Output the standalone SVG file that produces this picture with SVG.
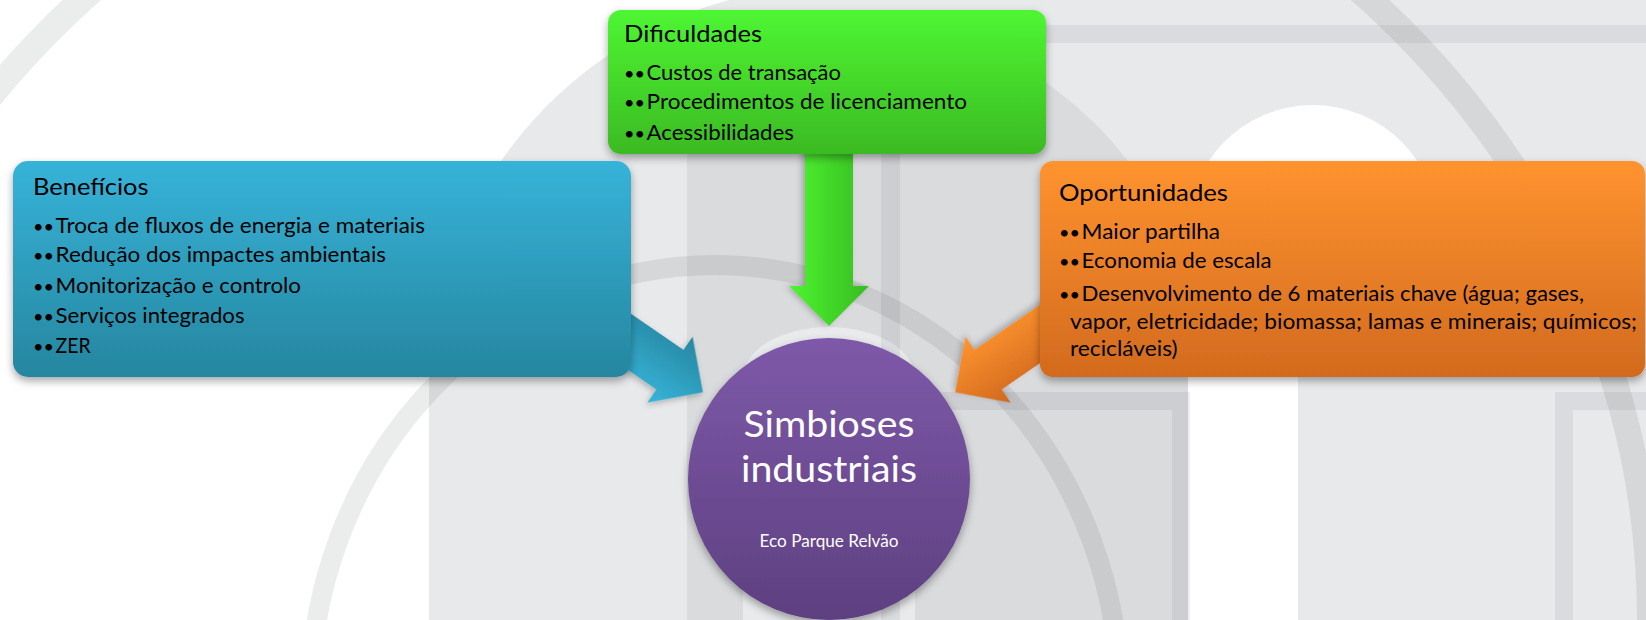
<svg xmlns="http://www.w3.org/2000/svg" width="1646" height="620" viewBox="0 0 1646 620">
<defs>
<style>
.t{font-family:Lato,"Liberation Sans",sans-serif;fill:#000}
.h{font-size:24px}
.b{font-size:21.5px}
.dot{font-size:17px}
.c{font-family:Lato,"Liberation Sans",sans-serif;fill:#fff;text-anchor:middle}
.band{fill:#1b1e28;fill-opacity:0.065}
.ring{fill:none;stroke:#1b1e28;stroke-opacity:0.085}
</style>
<linearGradient id="gGreen" x1="0" y1="0" x2="0" y2="1"><stop offset="0" stop-color="#4EF632"/><stop offset="1" stop-color="#3BBA23"/></linearGradient>
<linearGradient id="gBlue" x1="0" y1="0" x2="0" y2="1"><stop offset="0" stop-color="#36B3D9"/><stop offset="1" stop-color="#26869F"/></linearGradient>
<linearGradient id="gOrange" x1="0" y1="0" x2="0" y2="1"><stop offset="0" stop-color="#FF932F"/><stop offset="1" stop-color="#D26A1E"/></linearGradient>
<linearGradient id="gPurple" x1="0" y1="0" x2="0" y2="1"><stop offset="0" stop-color="#7E59A9"/><stop offset="1" stop-color="#5D4080"/></linearGradient>
<linearGradient id="aGreen" x1="0" y1="1" x2="0" y2="0"><stop offset="0" stop-color="#4EF431"/><stop offset="1" stop-color="#37BC21"/></linearGradient>
<linearGradient id="aBlue" x1="0" y1="1" x2="0" y2="0"><stop offset="0" stop-color="#37B5DA"/><stop offset="1" stop-color="#2686A0"/></linearGradient>
<linearGradient id="aOrange" x1="0" y1="1" x2="0" y2="0"><stop offset="0" stop-color="#FF9530"/><stop offset="1" stop-color="#D0681D"/></linearGradient>
<filter id="sh" x="-10%" y="-10%" width="120%" height="130%"><feDropShadow dx="0" dy="4" stdDeviation="4" flood-color="#000" flood-opacity="0.35"/></filter>
<filter id="sha" x="-20%" y="-20%" width="140%" height="140%"><feDropShadow dx="0" dy="3" stdDeviation="3" flood-color="#000" flood-opacity="0.25"/></filter>
<polygon id="arrowShape" points="-153,0 -193,-40 -193,-24 -290,-24 -290,24 -193,24 -193,40"/>
<polygon id="arrowLong" points="-153,0 -193,-40 -193,-24 -340,-24 -340,24 -193,24 -193,40"/>
</defs>

<g id="background">
<rect x="0" y="0" width="1646" height="620" fill="#FFFFFF"/>
<path d="M429,620 V392 A406,406 0 0 1 729,0 H1646 V620 Z" fill="#E8E9EB"/>
<path d="M687,620 V42 A378,378 0 0 1 1190,280 V620 Z" fill="#DADBDD"/>
<path d="M743,620 V378 A86,51 0 0 1 915,378 V620 Z" fill="#E9EAEC"/>
<path d="M1188,620 V230 A125,125 0 0 1 1438,230 V377 H1298 V620 Z" fill="#FFFFFF"/>
<rect class="band" x="881" y="25" width="765" height="18"/>
<rect class="band" x="881" y="43" width="19" height="577"/>
<rect class="band" x="900" y="392" width="290" height="18"/>
<rect class="band" x="1172" y="410" width="18" height="210"/>
<rect class="band" x="1555" y="392" width="91" height="18"/>
<rect class="band" x="1555" y="410" width="18" height="210"/>
<ellipse class="ring" cx="726" cy="620" rx="924" ry="865" stroke-width="26"/>
<ellipse class="ring" cx="715" cy="700" rx="405" ry="435" stroke-width="20"/>
</g>

<g id="connectors">
<g transform="translate(829 479) rotate(90)" filter="url(#sha)"><use href="#arrowLong" fill="url(#aGreen)"/></g>
<g transform="translate(829 479) rotate(34.5)" filter="url(#sha)"><use href="#arrowShape" fill="url(#aBlue)"/></g>
<g transform="translate(829 479) rotate(145.5)" filter="url(#sha)"><use href="#arrowShape" fill="url(#aOrange)"/></g>
</g>

<g id="node-dificuldades">
<rect x="608" y="10" width="438" height="144" rx="13" fill="url(#gGreen)" filter="url(#sh)"/>
<text class="t h" x="624" y="42" textLength="138" lengthAdjust="spacingAndGlyphs">Dificuldades</text>
<text class="t b" x="624" y="80"><tspan class="dot" textLength="21" lengthAdjust="spacingAndGlyphs">••</tspan><tspan x="646.6" textLength="194.4" lengthAdjust="spacingAndGlyphs">Custos de transação</tspan></text>
<text class="t b" x="624" y="109"><tspan class="dot" textLength="21" lengthAdjust="spacingAndGlyphs">••</tspan><tspan x="646.6" textLength="320.4" lengthAdjust="spacingAndGlyphs">Procedimentos de licenciamento</tspan></text>
<text class="t b" x="624" y="140"><tspan class="dot" textLength="21" lengthAdjust="spacingAndGlyphs">••</tspan><tspan x="646.6" textLength="147.4" lengthAdjust="spacingAndGlyphs">Acessibilidades</tspan></text>
</g>

<g id="node-beneficios">
<rect x="13" y="161" width="618" height="216" rx="15" fill="url(#gBlue)" filter="url(#sh)"/>
<text class="t h" x="33" y="195" textLength="115.5" lengthAdjust="spacingAndGlyphs">Benefícios</text>
<text class="t b" x="33" y="233"><tspan class="dot" textLength="21" lengthAdjust="spacingAndGlyphs">••</tspan><tspan x="55.6" textLength="369.4" lengthAdjust="spacingAndGlyphs">Troca de fluxos de energia e materiais</tspan></text>
<text class="t b" x="33" y="262"><tspan class="dot" textLength="21" lengthAdjust="spacingAndGlyphs">••</tspan><tspan x="55.6" textLength="330.4" lengthAdjust="spacingAndGlyphs">Redução dos impactes ambientais</tspan></text>
<text class="t b" x="33" y="293"><tspan class="dot" textLength="21" lengthAdjust="spacingAndGlyphs">••</tspan><tspan x="55.6" textLength="245.4" lengthAdjust="spacingAndGlyphs">Monitorização e controlo</tspan></text>
<text class="t b" x="33" y="323"><tspan class="dot" textLength="21" lengthAdjust="spacingAndGlyphs">••</tspan><tspan x="55.6" textLength="188.9" lengthAdjust="spacingAndGlyphs">Serviços integrados</tspan></text>
<text class="t b" x="33" y="353"><tspan class="dot" textLength="21" lengthAdjust="spacingAndGlyphs">••</tspan><tspan x="55.6" textLength="35.1" lengthAdjust="spacingAndGlyphs">ZER</tspan></text>
</g>

<g id="node-oportunidades">
<rect x="1040" y="161" width="605" height="216" rx="13" fill="url(#gOrange)" filter="url(#sh)"/>
<text class="t h" x="1059" y="201" textLength="169" lengthAdjust="spacingAndGlyphs">Oportunidades</text>
<text class="t b" x="1059" y="239"><tspan class="dot" textLength="21" lengthAdjust="spacingAndGlyphs">••</tspan><tspan x="1081.6" textLength="138.4" lengthAdjust="spacingAndGlyphs">Maior partilha</tspan></text>
<text class="t b" x="1059" y="268"><tspan class="dot" textLength="21" lengthAdjust="spacingAndGlyphs">••</tspan><tspan x="1081.6" textLength="190" lengthAdjust="spacingAndGlyphs">Economia de escala</tspan></text>
<text class="t b" x="1059" y="301"><tspan class="dot" textLength="21" lengthAdjust="spacingAndGlyphs">••</tspan><tspan x="1081.6" textLength="502.4" lengthAdjust="spacingAndGlyphs">Desenvolvimento de 6 materiais chave (água; gases,</tspan></text>
<text class="t b" x="1070" y="329" textLength="567" lengthAdjust="spacingAndGlyphs">vapor, eletricidade; biomassa; lamas e minerais; químicos;</text>
<text class="t b" x="1070" y="356" textLength="107.6" lengthAdjust="spacingAndGlyphs">recicláveis)</text>
</g>

<g id="node-simbioses">
<circle cx="829" cy="479" r="141" fill="url(#gPurple)" filter="url(#sh)"/>
<text class="c" x="829" y="437" font-size="37" textLength="171" lengthAdjust="spacingAndGlyphs">Simbioses</text>
<text class="c" x="829" y="482" font-size="37" textLength="176" lengthAdjust="spacingAndGlyphs">industriais</text>
<text class="c" x="829" y="547" font-size="17" textLength="139" lengthAdjust="spacingAndGlyphs">Eco Parque Relvão</text>
</g>
</svg>
